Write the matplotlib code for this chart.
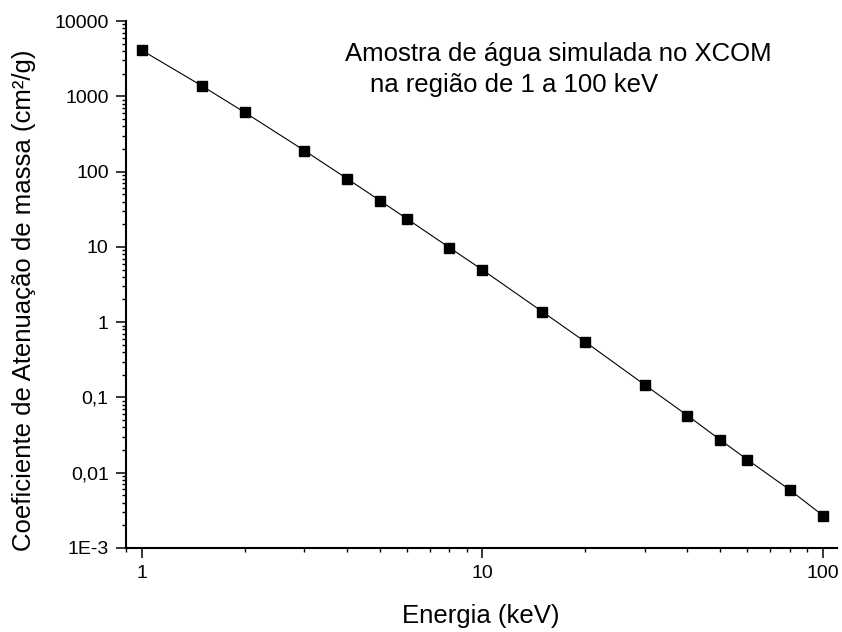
import numpy as np
import matplotlib
matplotlib.use("Agg")
import matplotlib.pyplot as plt
from matplotlib.ticker import FixedLocator, FixedFormatter, LogLocator, NullFormatter

plt.rcParams['font.family'] = ['Liberation Sans', 'DejaVu Sans']

# Energia (keV) e coeficiente de atenuação de massa (cm²/g), água no XCOM
energia = [1, 1.5, 2, 3, 4, 5, 6, 8, 10, 15, 20, 30, 40, 50, 60, 80, 100]
coef = [4065, 1372, 613.5, 189.8, 80.66, 41.11, 23.56, 9.756, 4.944,
        1.374, 0.5503, 0.1465, 0.0575, 0.0272, 0.0149, 0.0059, 0.0027]

y_ticks = [1e-3, 1e-2, 1e-1, 1, 10, 100, 1000, 10000]
y_labels = ['1E-3', '0,01', '0,1', '1', '10', '100', '1000', '10000']
x_ticks = [1, 10, 100]
x_labels = ['1', '10', '100']

fig = plt.figure(figsize=(8.42, 6.32), dpi=100)
ax = fig.add_axes([126 / 842, 1 - 548 / 632, (837 - 126) / 842, (548 - 21) / 632])

ax.plot(energia, coef, color='black', lw=0.8, marker='s', ms=7.3,
        mfc='black', mec='black')

ax.set_xscale('log')
ax.set_yscale('log')
ax.set_xlim(0.897, 110)
ax.set_ylim(1e-3, 1e4)

ax.xaxis.set_major_locator(FixedLocator(x_ticks))
ax.xaxis.set_major_formatter(FixedFormatter(x_labels))
ax.xaxis.set_minor_locator(LogLocator(base=10, subs=np.arange(2, 10)))
ax.xaxis.set_minor_formatter(NullFormatter())
ax.yaxis.set_major_locator(FixedLocator(y_ticks))
ax.yaxis.set_major_formatter(FixedFormatter(y_labels))
ax.yaxis.set_minor_locator(LogLocator(base=10, subs=np.arange(2, 10)))
ax.yaxis.set_minor_formatter(NullFormatter())

for side in ['top', 'right']:
    ax.spines[side].set_visible(False)
for side in ['left', 'bottom']:
    ax.spines[side].set_linewidth(1.5)

ax.tick_params(which='major', direction='out', length=7.5, width=1.1,
               labelsize=14, pad=5)
ax.tick_params(which='minor', direction='out', length=3, width=1.0)
ax.tick_params(axis='x', which='major', pad=5)

ax.set_xlabel('Energia (keV)', fontsize=18.5, va='baseline')
ax.xaxis.set_label_coords(481 / 842, 1 - 623 / 632, transform=fig.transFigure)
ax.set_ylabel('Coeficiente de Atenuação de massa (cm²/g)', fontsize=18.5, va='center')
ax.yaxis.set_label_coords(24 / 842, 1 - 300 / 632, transform=fig.transFigure)

fig.text(345 / 842, 1 - 61.5 / 632, 'Amostra de água simulada no XCOM',
         fontsize=18.5, va='baseline')
fig.text(370 / 842, 1 - 92 / 632, 'na região de 1 a 100 keV',
         fontsize=18.5, va='baseline')

fig.savefig('out.png', dpi=100)
